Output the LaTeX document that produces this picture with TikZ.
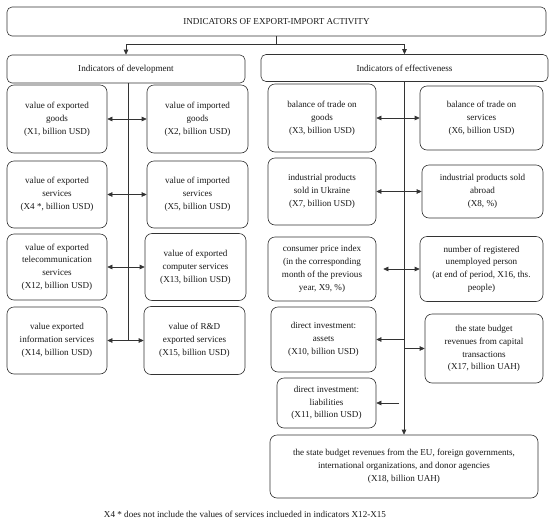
\documentclass[tikz,border=0pt]{standalone}
\usepackage{fontspec}
\setmainfont{Liberation Serif}
\usetikzlibrary{arrows.meta}
\begin{document}
\begin{tikzpicture}[x=1pt,y=-1pt,
  box/.style={draw=black!80, line width=0.6pt, rounded corners=7pt, align=center, inner sep=2pt,
    font=\fontsize{9.1}{12.8}\selectfont, text=black!90},
  hbox/.style={box, rounded corners=5pt},
  conn/.style={draw=black!80, line width=0.6pt},
  tip/.style={conn, -{Triangle[length=5pt,width=4.5pt]}},
  dbl/.style={conn, {Triangle[length=5pt,width=4.5pt]}-{Triangle[length=5pt,width=4.5pt]}}]
\useasboundingbox (0,0) rectangle (550,523);
\fill[white] (0,0) rectangle (550,523);

\node[hbox, minimum width=539, minimum height=29] (top) at (276.5,21.5) {INDICATORS OF EXPORT-IMPORT ACTIVITY};
\node[hbox, minimum width=238, minimum height=28] (dev) at (126,69) {Indicators of development};
\node[hbox, minimum width=287, minimum height=27] (eff) at (404.5,68) {Indicators of effectiveness};

\node[box, minimum width=100, minimum height=68] (x1) at (57,119) {value of exported\\goods\\(X1, billion USD)};
\node[box, minimum width=101, minimum height=68] (x2) at (197.5,119) {value of imported\\goods\\(X2, billion USD)};
\node[box, minimum width=100, minimum height=67] (x4) at (57,194.5) {value of exported\\services\\(X4 *, billion USD)};
\node[box, minimum width=101, minimum height=67] (x5) at (197.5,194.5) {value of imported\\services\\(X5, billion USD)};
\node[box, minimum width=100, minimum height=66] (x12) at (57,267) {value of exported\\telecommunication\\services\\(X12, billion USD)};
\node[box, minimum width=101, minimum height=67] (x13) at (195.5,267) {value of exported\\computer services\\(X13, billion USD)};
\node[box, minimum width=100, minimum height=67] (x14) at (57,340.5) {value exported\\information services\\(X14, billion USD)};
\node[box, minimum width=101, minimum height=68] (x15) at (194.5,340.5) {value of R\&D\\exported services\\(X15, billion USD)};

\node[box, minimum width=108, minimum height=68] (x3) at (322,118) {balance of trade on\\goods\\(X3, billion USD)};
\node[box, minimum width=123, minimum height=64] (x6) at (481.5,118) {balance of trade on\\services\\(X6, billion USD)};
\node[box, minimum width=108, minimum height=67] (x7) at (322,191.5) {industrial products\\sold in Ukraine\\(X7, billion USD)};
\node[box, minimum width=121, minimum height=53] (x8) at (482.5,191.5) {industrial products sold\\abroad\\(X8, \%)};
\node[box, minimum width=108, minimum height=64] (x9) at (322,269) {consumer price index\\(in the corresponding\\month of the previous\\year, X9, \%)};
\node[box, minimum width=123, minimum height=65] (x16) at (481.5,269) {number of registered\\unemployed person\\(at end of period, X16, ths.\\people)};
\node[box, minimum width=105, minimum height=65] (x10) at (323.5,339.5) {direct investment:\\assets\\(X10, billion USD)};
\node[box, minimum width=118, minimum height=69] (x17) at (484,348.5) {the state budget\\revenues from capital\\transactions\\(X17, billion UAH)};
\node[box, minimum width=99, minimum height=50] (x11) at (326.5,403) {direct investment:\\liabilities\\(X11, billion USD)};
\node[box, minimum width=268, minimum height=63] (bot) at (404,466.5) {the state budget revenues from the EU, foreign governments,\\international organizations, and donor agencies\\(X18, billion UAH)};

\node[font=\fontsize{9.1}{10}\selectfont, text=black!90] (foot) at (245,514) {X4 * does not include the values of services inclueded in indicators X12-X15};

% top split
\coordinate (split) at (276.5,44);
\draw[conn] (top.south) -- (split);
\draw[conn] (split -| dev.north) -- (split -| eff.north);
\draw[tip] (split -| dev.north) -- (dev.north);
\draw[tip] (split -| eff.north) -- (eff.north);

% left spine
\coordinate (lv) at (128,340.5);
\draw[conn] (lv |- dev.south) -- (lv);
\draw[dbl] (x1) -- (x2);
\draw[dbl] (x4) -- (x5);
\draw[dbl] (x12) -- (x13);
\draw[dbl] (x14) -- (x15);

% right spine
\draw[tip] (eff.south -| bot.north) -- (bot.north);
\draw[dbl] (x3) -- (x6);
\draw[dbl] (x7) -- (x8);
\draw[dbl, shorten <=7pt] (x9) -- (x16);
\draw[tip] (x10.east -| bot.north) -- (x10.east);
\draw[tip] (x17.west -| bot.north) -- (x17.west);
\draw[tip, shorten <=5pt] (x11.east -| bot.north) -- (x11.east);
\end{tikzpicture}
\end{document}
